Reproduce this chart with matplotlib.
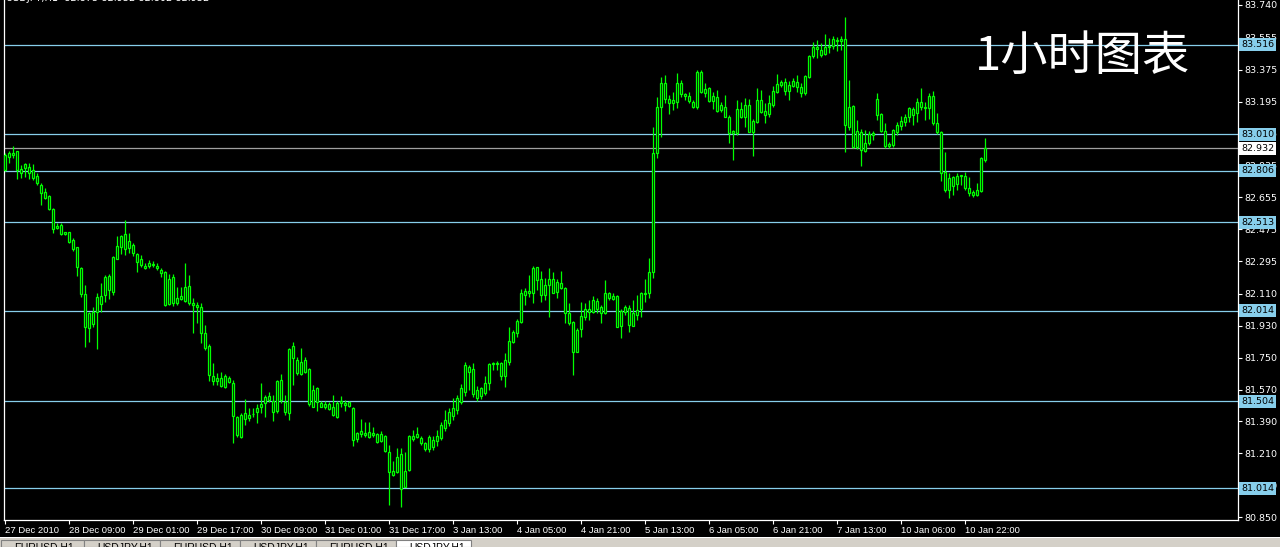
import matplotlib
matplotlib.use("Agg")
import matplotlib.pyplot as plt
from matplotlib.patches import Rectangle
import numpy as np

# ---------------- data ----------------
opens = [
    82.809, 82.882, 82.894, 82.916, 82.792, 82.843, 82.826, 82.809, 82.775, 82.724,
    82.685, 82.662, 82.588, 82.481, 82.498, 82.447, 82.458, 82.413, 82.374, 82.255,
    82.109, 81.917, 82.007, 82.007, 82.098, 82.103, 82.210, 82.120, 82.306, 82.374,
    82.447, 82.368, 82.385, 82.334, 82.306, 82.267, 82.267, 82.278, 82.267, 82.244,
    82.233, 82.052, 82.204, 82.058, 82.081, 82.069, 82.154, 82.058, 82.047, 82.035,
    81.889, 81.815, 81.618, 81.635, 81.635, 81.585, 81.635, 81.607, 81.415, 81.302,
    81.404, 81.426, 81.432, 81.443, 81.471, 81.494, 81.534, 81.505, 81.449, 81.624,
    81.500, 81.438, 81.815, 81.737, 81.658, 81.737, 81.686, 81.471, 81.579, 81.494,
    81.471, 81.488, 81.471, 81.415, 81.505, 81.483, 81.500, 81.466, 81.291, 81.319,
    81.325, 81.302, 81.325, 81.319, 81.280, 81.308, 81.217, 81.088, 81.105, 81.206,
    81.019, 81.116, 81.308, 81.302, 81.297, 81.268, 81.234, 81.285, 81.280, 81.297,
    81.353, 81.381, 81.421, 81.454, 81.500, 81.556, 81.697, 81.686, 81.567, 81.534,
    81.551, 81.607, 81.714, 81.720, 81.720, 81.646, 81.726, 81.838, 81.889, 81.951,
    82.103, 82.114, 82.114, 82.261, 82.193, 82.103, 82.159, 82.193, 82.120, 82.171,
    82.143, 82.002, 81.951, 81.782, 81.911, 81.979, 82.024, 82.007, 82.069, 82.035,
    82.002, 82.114, 82.081, 82.098, 81.928, 82.007, 82.030, 81.928, 81.990, 82.024,
    82.109, 82.114, 82.233, 82.905, 83.164, 83.300, 83.209, 83.187, 83.193, 83.300,
    83.238, 83.226, 83.193, 83.164, 83.362, 83.243, 83.271, 83.198, 83.221, 83.147,
    83.164, 83.108, 83.017, 83.017, 83.153, 83.108, 83.176, 83.023, 83.080, 83.204,
    83.142, 83.125, 83.176, 83.249, 83.288, 83.305, 83.255, 83.283, 83.305, 83.277,
    83.243, 83.333, 83.452, 83.503, 83.486, 83.463, 83.503, 83.508, 83.542, 83.537,
    83.548, 83.051, 83.170, 82.939, 83.023, 82.916, 82.961, 83.006, 83.209, 83.125,
    83.029, 82.944, 82.950, 83.023, 83.057, 83.080, 83.108, 83.153, 83.130, 83.193,
    83.164, 83.159, 83.226, 83.074, 83.023, 82.798, 82.696, 82.769, 82.730, 82.775,
    82.775, 82.707, 82.685, 82.668, 82.690, 82.865,
]
highs = [
    82.905, 82.916, 82.944, 82.916, 82.837, 82.848, 82.848, 82.843, 82.792, 82.736,
    82.707, 82.668, 82.594, 82.509, 82.509, 82.458, 82.458, 82.425, 82.374, 82.261,
    82.159, 82.007, 82.035, 82.114, 82.171, 82.216, 82.221, 82.323, 82.436, 82.441,
    82.527, 82.453, 82.396, 82.340, 82.328, 82.284, 82.300, 82.295, 82.284, 82.255,
    82.238, 82.221, 82.221, 82.148, 82.148, 82.284, 82.216, 82.086, 82.064, 82.058,
    81.934, 81.826, 81.720, 81.663, 81.669, 81.658, 81.646, 81.624, 81.421, 81.438,
    81.516, 81.466, 81.466, 81.488, 81.607, 81.539, 81.556, 81.539, 81.624, 81.658,
    81.539, 81.804, 81.838, 81.754, 81.804, 81.754, 81.692, 81.596, 81.585, 81.505,
    81.505, 81.500, 81.539, 81.505, 81.534, 81.511, 81.505, 81.471, 81.330, 81.404,
    81.387, 81.387, 81.358, 81.325, 81.336, 81.313, 81.257, 81.167, 81.240, 81.240,
    81.217, 81.313, 81.342, 81.358, 81.308, 81.274, 81.313, 81.308, 81.342, 81.387,
    81.454, 81.466, 81.522, 81.539, 81.601, 81.726, 81.709, 81.720, 81.590, 81.585,
    81.646, 81.720, 81.726, 81.731, 81.726, 81.776, 81.923, 81.906, 81.968, 82.137,
    82.143, 82.216, 82.267, 82.261, 82.238, 82.199, 82.255, 82.233, 82.193, 82.238,
    82.148, 82.058, 81.957, 81.917, 82.064, 82.058, 82.075, 82.098, 82.086, 82.047,
    82.188, 82.120, 82.114, 82.103, 82.024, 82.047, 82.047, 82.075, 82.103, 82.120,
    82.193, 82.312, 83.052, 83.221, 83.333, 83.345, 83.232, 83.249, 83.356, 83.317,
    83.243, 83.249, 83.204, 83.373, 83.373, 83.300, 83.277, 83.249, 83.260, 83.193,
    83.232, 83.119, 83.034, 83.204, 83.193, 83.215, 83.209, 83.096, 83.271, 83.260,
    83.187, 83.232, 83.283, 83.350, 83.317, 83.328, 83.311, 83.328, 83.345, 83.300,
    83.345, 83.458, 83.531, 83.542, 83.525, 83.576, 83.554, 83.565, 83.559, 83.565,
    83.672, 83.317, 83.176, 83.091, 83.040, 83.034, 83.029, 83.029, 83.243, 83.130,
    83.074, 82.967, 83.040, 83.080, 83.113, 83.125, 83.164, 83.164, 83.215, 83.271,
    83.193, 83.243, 83.255, 83.130, 83.029, 82.910, 82.792, 82.775, 82.792, 82.781,
    82.798, 82.769, 82.696, 82.736, 82.882, 82.989,
]
lows = [
    82.803, 82.848, 82.877, 82.758, 82.764, 82.769, 82.758, 82.753, 82.724, 82.611,
    82.645, 82.583, 82.453, 82.475, 82.441, 82.441, 82.396, 82.351, 82.210, 82.092,
    81.810, 81.838, 81.923, 81.798, 82.007, 82.064, 82.081, 82.103, 82.306, 82.334,
    82.328, 82.340, 82.323, 82.233, 82.261, 82.250, 82.255, 82.261, 82.244, 82.204,
    82.041, 82.047, 82.041, 82.047, 82.075, 82.064, 82.047, 81.889, 81.945, 81.832,
    81.793, 81.618, 81.596, 81.596, 81.585, 81.579, 81.607, 81.268, 81.302, 81.297,
    81.370, 81.392, 81.415, 81.381, 81.438, 81.415, 81.500, 81.392, 81.438, 81.494,
    81.426, 81.398, 81.596, 81.652, 81.652, 81.663, 81.477, 81.471, 81.449, 81.471,
    81.460, 81.454, 81.421, 81.409, 81.471, 81.449, 81.471, 81.251, 81.274, 81.302,
    81.302, 81.297, 81.302, 81.268, 81.274, 81.217, 80.918, 81.082, 81.099, 80.907,
    81.019, 81.110, 81.280, 81.297, 81.257, 81.223, 81.217, 81.229, 81.251, 81.285,
    81.336, 81.364, 81.398, 81.432, 81.488, 81.534, 81.567, 81.528, 81.505, 81.517,
    81.539, 81.567, 81.680, 81.680, 81.624, 81.585, 81.709, 81.832, 81.866, 81.945,
    82.047, 82.092, 82.058, 82.132, 82.064, 82.075, 81.979, 82.114, 82.086, 82.137,
    81.945, 81.934, 81.652, 81.782, 81.866, 81.962, 81.962, 82.002, 82.002, 81.945,
    81.996, 82.075, 82.075, 81.923, 81.860, 81.990, 81.894, 81.928, 81.962, 81.979,
    82.064, 82.086, 82.199, 82.877, 82.995, 83.187, 83.125, 83.147, 83.159, 83.221,
    83.204, 83.187, 83.159, 83.153, 83.243, 83.221, 83.193, 83.153, 83.136, 83.136,
    83.108, 82.961, 82.865, 83.006, 83.102, 83.051, 83.023, 82.888, 83.074, 83.130,
    83.074, 83.108, 83.164, 83.243, 83.277, 83.232, 83.204, 83.277, 83.249, 83.221,
    83.232, 83.328, 83.441, 83.441, 83.446, 83.458, 83.469, 83.491, 83.480, 83.486,
    82.910, 83.034, 82.933, 82.927, 82.831, 82.910, 82.950, 82.978, 83.091, 83.023,
    82.933, 82.933, 82.939, 83.006, 83.034, 83.057, 83.080, 83.063, 83.080, 83.147,
    83.091, 83.096, 83.063, 83.012, 82.747, 82.685, 82.651, 82.668, 82.696, 82.724,
    82.696, 82.662, 82.656, 82.662, 82.685, 82.854,
]
closes = [
    82.894, 82.905, 82.905, 82.809, 82.815, 82.820, 82.792, 82.764, 82.736, 82.679,
    82.651, 82.588, 82.475, 82.492, 82.447, 82.458, 82.402, 82.362, 82.261, 82.109,
    81.923, 82.002, 81.940, 82.092, 82.052, 82.204, 82.132, 82.317, 82.379, 82.436,
    82.362, 82.408, 82.340, 82.289, 82.272, 82.255, 82.284, 82.272, 82.255, 82.227,
    82.047, 82.193, 82.058, 82.086, 82.098, 82.148, 82.058, 82.047, 82.035, 81.889,
    81.804, 81.652, 81.646, 81.618, 81.590, 81.646, 81.613, 81.421, 81.313, 81.426,
    81.438, 81.409, 81.435, 81.466, 81.488, 81.528, 81.511, 81.443, 81.618, 81.511,
    81.443, 81.798, 81.748, 81.663, 81.726, 81.669, 81.488, 81.567, 81.500, 81.471,
    81.488, 81.460, 81.426, 81.494, 81.494, 81.494, 81.477, 81.285, 81.325, 81.336,
    81.313, 81.330, 81.313, 81.274, 81.319, 81.223, 81.105, 81.110, 81.189, 81.008,
    81.110, 81.308, 81.291, 81.319, 81.268, 81.234, 81.302, 81.246, 81.308, 81.370,
    81.398, 81.443, 81.466, 81.522, 81.579, 81.709, 81.669, 81.545, 81.522, 81.579,
    81.607, 81.714, 81.720, 81.714, 81.646, 81.737, 81.844, 81.894, 81.957, 82.114,
    82.126, 82.126, 82.255, 82.188, 82.103, 82.159, 82.193, 82.114, 82.176, 82.143,
    82.002, 81.945, 81.782, 81.906, 81.985, 82.024, 82.007, 82.075, 82.024, 82.002,
    82.114, 82.086, 82.098, 81.923, 82.013, 82.035, 81.934, 82.002, 82.019, 82.114,
    82.114, 82.233, 82.905, 83.164, 83.300, 83.209, 83.187, 83.204, 83.300, 83.238,
    83.226, 83.198, 83.164, 83.362, 83.249, 83.266, 83.198, 83.226, 83.142, 83.176,
    83.108, 83.017, 83.029, 83.153, 83.108, 83.176, 83.023, 83.085, 83.204, 83.136,
    83.119, 83.187, 83.255, 83.294, 83.305, 83.255, 83.288, 83.311, 83.277, 83.243,
    83.339, 83.452, 83.503, 83.491, 83.458, 83.503, 83.508, 83.548, 83.537, 83.548,
    83.063, 83.164, 82.939, 83.029, 82.922, 82.961, 83.012, 83.017, 83.119, 83.029,
    82.944, 82.956, 83.034, 83.063, 83.085, 83.108, 83.159, 83.119, 83.193, 83.164,
    83.159, 83.226, 83.074, 83.023, 82.792, 82.696, 82.764, 82.718, 82.775, 82.781,
    82.707, 82.679, 82.668, 82.696, 82.877, 82.932,
]

level_lines = [83.516, 83.010, 82.806, 82.513, 82.014, 81.504, 81.014]
current_price = 82.932
price_ticks = [83.740, 83.555, 83.375, 83.195, 83.015, 82.835, 82.655, 82.475,
               82.295, 82.110, 81.930, 81.750, 81.570, 81.390, 81.210, 81.030, 80.850]
time_labels = ["27 Dec 2010", "28 Dec 09:00", "29 Dec 01:00", "29 Dec 17:00",
               "30 Dec 09:00", "31 Dec 01:00", "31 Dec 17:00", "3 Jan 13:00",
               "4 Jan 05:00", "4 Jan 21:00", "5 Jan 13:00", "6 Jan 05:00",
               "6 Jan 21:00", "7 Jan 13:00", "10 Jan 06:00", "10 Jan 22:00"]
bars_per_label = 16
tab_names = ["EURUSD,H1", "USDJPY,H1", "EURUSD,H1", "USDJPY,H1", "EURUSD,H1", "USDJPY,H1"]
header_text = "USDJPY,H1  82.875 82.932 82.802 82.932"
title_text = "1小时图表"

# ---------------- figure ----------------
W, H = 1280, 547
fig = plt.figure(figsize=(W / 100, H / 100), dpi=100, facecolor="black")

ax_left, ax_right, ax_bottom_px = 4, 1238, 519.5
ax = fig.add_axes([ax_left / W, (H - ax_bottom_px) / H, (ax_right - ax_left) / W, ax_bottom_px / H])
ax.set_facecolor("black")

GREEN = "#00FF00"
LEVEL = "#87CEEB"
n = len(closes)
x = np.arange(n)
o = np.array(opens); c = np.array(closes)
ax.vlines(x, lows, highs, color=GREEN, lw=0.9, zorder=3)
ax.bar(x, c - o, bottom=o, width=0.5, facecolor="black", edgecolor=GREEN,
       lw=0.9, zorder=4)

for lv in level_lines:
    ax.axhline(lv, color=LEVEL, lw=0.9, zorder=1)
ax.axhline(current_price, color="#A0A0A0", lw=0.9, zorder=1)

px_per_bar = 4.0
ax.set_xlim(-0.25, -0.25 + (ax_right - ax_left) / px_per_bar)
ax.set_ylim(80.837, 83.768)

for s in ["left", "bottom", "right"]:
    ax.spines[s].set_color("white")
    ax.spines[s].set_linewidth(0.9)
ax.spines["top"].set_visible(False)

ax.yaxis.tick_right()
ax.set_yticks(price_ticks)
ax.set_yticklabels([f"{t:.3f}" for t in price_ticks])
ax.tick_params(axis="y", colors="white", length=3, width=0.8, pad=1.5,
               labelsize=6.8, labelcolor="white")
ax.set_xticks(np.arange(0, bars_per_label * len(time_labels), bars_per_label))
ax.set_xticklabels(time_labels)
ax.tick_params(axis="x", colors="white", length=3, width=0.8, pad=1.5,
               labelsize=6.8, labelcolor="white")
for lbl in ax.get_xticklabels():
    lbl.set_ha("left")
    lbl.set_fontfamily("Liberation Sans")
for lbl in ax.get_yticklabels():
    lbl.set_fontfamily("DejaVu Sans")

# price level labels on right axis
for lv in level_lines:
    ax.annotate(f"{lv:.3f}", xy=(1, lv), xycoords=("axes fraction", "data"),
                xytext=(2.2, 0), textcoords="offset points", va="center", ha="left",
                fontsize=6.8, color="#000000", family="DejaVu Sans",
                bbox=dict(boxstyle="square,pad=0.2", fc=LEVEL, ec="none"),
                annotation_clip=False, zorder=10)
ax.annotate(f"{current_price:.3f}", xy=(1, current_price), xycoords=("axes fraction", "data"),
            xytext=(2.2, 0), textcoords="offset points", va="center", ha="left",
            fontsize=6.8, color="#000000", family="DejaVu Sans",
            bbox=dict(boxstyle="square,pad=0.2", fc="white", ec="none"),
            annotation_clip=False, zorder=10)

# header & title
fig.text(6 / W, 1 + 2 / H, header_text, color="white", fontsize=7, va="center",
         ha="left", family="DejaVu Sans")
fig.text(975 / W, 1 - 57 / H, title_text, color="white", fontsize=34, va="center",
         ha="left", family=["Noto Sans CJK SC", "DejaVu Sans"])

# bottom tab strip
strip_top = 538
fig.patches.append(Rectangle((0, 0), 1, (H - strip_top) / H, transform=fig.transFigure,
                             facecolor="#D4D0C8", edgecolor="none", zorder=0))
fig.patches.append(Rectangle((0, (H - strip_top) / H), 1, 1.2 / H, transform=fig.transFigure,
                             facecolor="white", edgecolor="none", zorder=1))
tab_edges = [1, 84, 160, 240, 316, 396, 471]
for i, name in enumerate(tab_names):
    x0, x1 = tab_edges[i], tab_edges[i + 1]
    active = i == len(tab_names) - 1
    fig.patches.append(Rectangle((x0 / W, 0), (x1 - x0) / W, (H - 540) / H,
                                 transform=fig.transFigure,
                                 facecolor="white" if active else "#D4D0C8",
                                 edgecolor="#808080", lw=0.8, zorder=2))
    fig.text((x0 + 13) / W, (H - 542.5) / H, name, color="black", fontsize=7.5,
             va="top", ha="left", family="Liberation Sans", zorder=3)

fig.savefig("out.png", dpi=100, facecolor="black")
